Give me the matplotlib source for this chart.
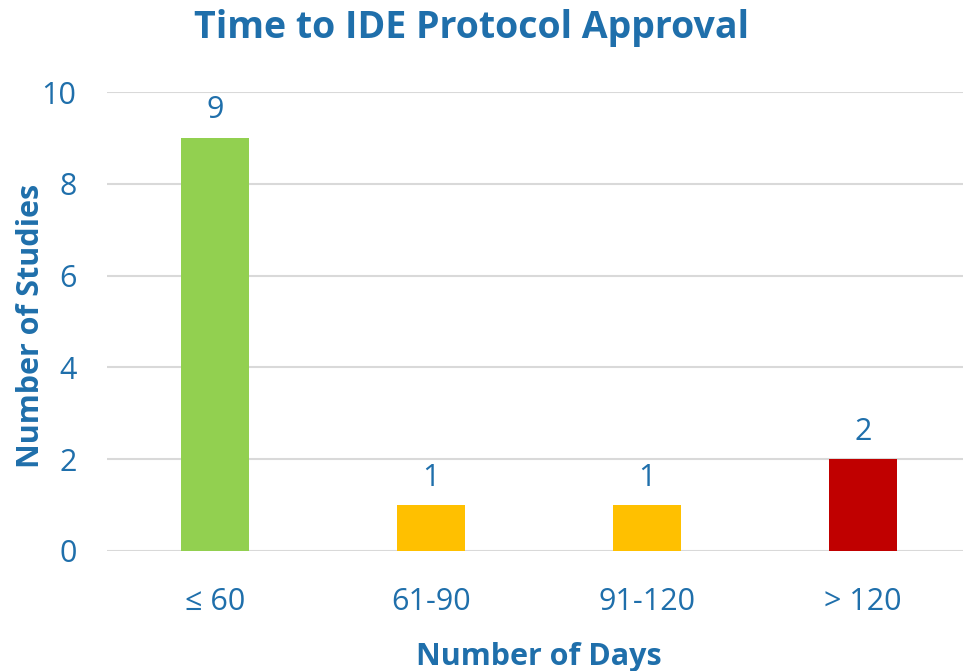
import matplotlib
matplotlib.use("Agg")
import matplotlib.pyplot as plt

categories = ["≤ 60", "61-90", "91-120", "> 120"]
counts = [9, 1, 1, 2]
bar_colors = ["#92D050", "#FFC000", "#FFC000", "#C00000"]
y_ticks = [0, 2, 4, 6, 8, 10]

BLUE = "#1F6FAB"
plt.rcParams["font.family"] = ["Open Sans", "DejaVu Sans"]

fig = plt.figure(figsize=(9.63, 6.71), dpi=100)
ax = fig.add_axes([107 / 963, 120 / 671, 864 / 963, 459 / 671])

x = range(len(categories))
bars = ax.bar(x, counts, width=0.315, color=bar_colors, zorder=3)

for rect, v in zip(bars, counts):
    ax.annotate(str(v), (rect.get_x() + rect.get_width() / 2, v),
                xytext=(0, 9), textcoords="offset points",
                ha="center", va="bottom", fontsize=22, color=BLUE)

ax.set_xlim(-0.5, 3.5)
ax.set_ylim(0, 10)
ax.set_yticks(y_ticks)
ax.set_xticks(list(x))
ax.set_xticklabels(categories)
ax.tick_params(axis="both", length=0, labelsize=22, labelcolor=BLUE)
ax.tick_params(axis="y", pad=22)
ax.tick_params(axis="x", pad=26)
ax.yaxis.grid(True, color="#D9D9D9", linewidth=1.5, zorder=0)
for s in ax.spines.values():
    s.set_visible(False)

ax.set_xlabel("Number of Days", fontsize=22, fontweight="bold", color=BLUE, labelpad=18)
ax.set_ylabel("Number of Studies", fontsize=22, fontweight="bold", color=BLUE)
ax.yaxis.set_label_coords(-0.071, 0.49)
fig.text(0.49, 0.958, "Time to IDE Protocol Approval", ha="center", va="center",
         fontsize=27, fontweight="bold", color=BLUE)

fig.savefig("out.png", dpi=100)
